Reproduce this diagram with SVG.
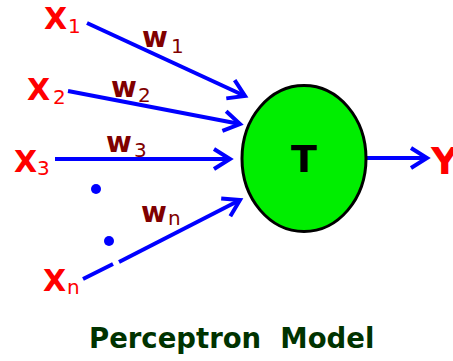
<svg xmlns="http://www.w3.org/2000/svg" width="453" height="361" viewBox="0 0 453 361">
<defs>
<style>
.x{font-family:"DejaVu Sans",Verdana,sans-serif;font-weight:bold;fill:#ff0000;font-size:30px}
.w{font-family:"DejaVu Sans",Verdana,sans-serif;font-weight:bold;fill:#800000;font-size:28px}
.sub{font-weight:normal;font-size:20px}
.edge{stroke:#0000ff;stroke-width:4;fill:none}
</style>
<marker id="ah" markerUnits="userSpaceOnUse" markerWidth="30" markerHeight="30" refX="0" refY="0" viewBox="-20 -15 30 30" orient="auto" overflow="visible">
<path d="M-16,-10 L0,0 L-16,10" fill="none" stroke="#0000ff" stroke-width="4" stroke-linejoin="miter"/>
</marker>
</defs>
<rect width="453" height="361" fill="#ffffff"/>
<g id="connectors">
<line class="edge" x1="87" y1="23" x2="245" y2="96" marker-end="url(#ah)"/>
<line class="edge" x1="68" y1="91" x2="240" y2="124" marker-end="url(#ah)"/>
<line class="edge" x1="55" y1="159" x2="230" y2="159" marker-end="url(#ah)"/>
<line class="edge" x1="83" y1="279" x2="113" y2="264"/>
<line class="edge" x1="119" y1="262" x2="240" y2="200" marker-end="url(#ah)"/>
<line class="edge" x1="366" y1="158" x2="427" y2="158" marker-end="url(#ah)"/>
</g>
<g id="node-T">
<ellipse cx="304" cy="158.5" rx="62" ry="73" fill="#00ee00" stroke="#000000" stroke-width="3"/>
<text x="304" y="172" text-anchor="middle" font-family="DejaVu Sans,Verdana,sans-serif" font-weight="bold" font-size="38" fill="#000000">T</text>
</g>
<g id="node-x1"><text class="x" x="44" y="29">X<tspan class="sub" x="68" dy="4">1</tspan></text></g>
<g id="node-x2"><text class="x" x="27" y="100">X<tspan class="sub" x="53" dy="4">2</tspan></text></g>
<g id="node-x3"><text class="x" x="14" y="172">X<tspan class="sub" x="37" dy="3">3</tspan></text></g>
<g id="node-xn"><text class="x" x="43" y="291">X<tspan class="sub" x="67" dy="3">n</tspan></text></g>
<g id="dots">
<circle cx="96" cy="189" r="5" fill="#0000ff"/>
<circle cx="109" cy="241" r="5" fill="#0000ff"/>
</g>
<g id="weights">
<text class="w" x="142" y="47">w<tspan class="sub" x="171" dy="6">1</tspan></text>
<text class="w" x="111" y="97">w<tspan class="sub" x="138" dy="5">2</tspan></text>
<text class="w" x="106" y="152">w<tspan class="sub" x="134" dy="5">3</tspan></text>
<text class="w" x="141" y="222">w<tspan class="sub" x="168" dy="3">n</tspan></text>
</g>
<g id="node-y"><text x="431" y="174" font-family="DejaVu Sans,Verdana,sans-serif" font-weight="bold" font-size="38" fill="#ff0000">Y</text></g>
<text x="89" y="348" font-family="DejaVu Sans,Verdana,sans-serif" font-weight="bold" font-size="27.5" fill="#003300" xml:space="preserve">Perceptron  Model</text>
</svg>
